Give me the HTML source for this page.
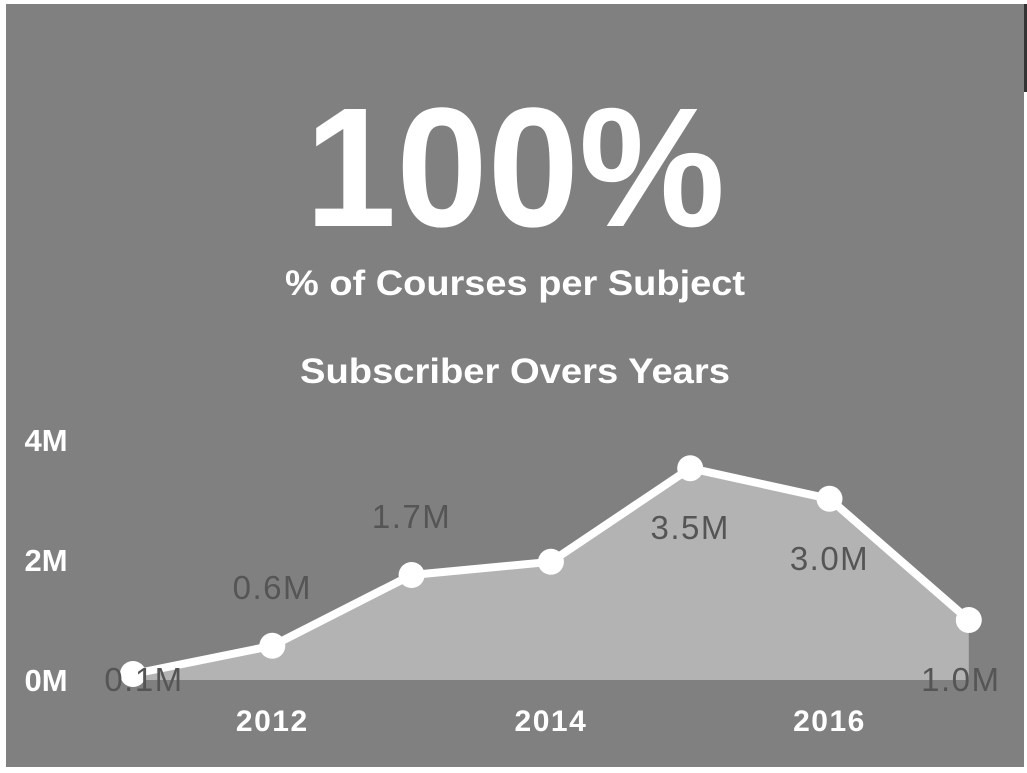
<!DOCTYPE html>
<html><head><meta charset="utf-8"><style>
html,body{margin:0;padding:0;background:#fff;width:1027px;height:773px;overflow:hidden}
svg{display:block;font-family:"Liberation Sans",Arial,sans-serif}
</style></head><body>
<svg width="1027" height="773">
<rect x="6" y="4" width="1018" height="763" fill="#808080"/>
<rect x="1024" y="4" width="3" height="88" fill="#333"/>
<text x="515" y="226" text-anchor="middle" font-size="170" font-weight="bold" fill="#fff" textLength="420" lengthAdjust="spacingAndGlyphs">100%</text>
<text x="515" y="295" text-anchor="middle" font-size="35" font-weight="bold" fill="#fff" textLength="460" lengthAdjust="spacingAndGlyphs">% of Courses per Subject</text>
<text x="515" y="383" text-anchor="middle" font-size="35" font-weight="bold" fill="#fff" textLength="430" lengthAdjust="spacingAndGlyphs">Subscriber Overs Years</text>
<g id="chart"></g>
</svg>
<script>
const years=[2011,2012,2013,2014,2015,2016,2017];
const values=[0.1,0.57,1.75,1.97,3.53,3.02,1.0];
const labels=["0.1M","0.6M","1.7M","","3.5M","3.0M","1.0M"];
const labelPos=["on","above","above","none","below","below","below"];
const yTicks=[0,2,4];
const xTicks=[2012,2014,2016];
const NS="http://www.w3.org/2000/svg";
const g=document.getElementById('chart');
const X=y=>133+(y-2011)*139.3;
const Y=v=>680-v*60;
function el(t,a){const e=document.createElementNS(NS,t);for(const k in a)e.setAttribute(k,a[k]);g.appendChild(e);return e;}
yTicks.forEach(t=>{const e=el('text',{x:46,y:Y(t)+11,'text-anchor':'middle','font-size':31,'font-weight':'bold',fill:'#fff'});e.textContent=t+'M';

});
xTicks.forEach(t=>{const e=el('text',{x:X(t),y:731,'text-anchor':'middle','font-size':30,'font-weight':'bold',fill:'#fff','letter-spacing':1.5});e.textContent=t;

});
let pts=years.map((y,i)=>X(y)+','+Y(values[i]));
const area=el('polygon',{points:X(years[0])+','+Y(0)+' '+pts.join(' ')+' '+X(years[years.length-1])+','+Y(0),fill:'#b3b3b3'});


const line=el('polyline',{points:pts.join(' '),fill:'none',stroke:'#fff','stroke-width':8,'stroke-linejoin':'round'});


years.forEach((y,i)=>{const c=el('circle',{cx:X(y),cy:Y(values[i]),r:13,fill:'#fff'});

});
years.forEach((y,i)=>{if(!labels[i])return;const p=labelPos[i];
const yy=p==='above'?Y(values[i])-47:p==='below'?Y(values[i])+71:Y(values[i])+17;
const t=el('text',{x:X(y)+(p==='on'?11:0)-(i===6?8:0),y:yy,'text-anchor':'middle','font-size':33,fill:'#555','letter-spacing':1.5});t.textContent=labels[i];

});
</script>
</body></html>
